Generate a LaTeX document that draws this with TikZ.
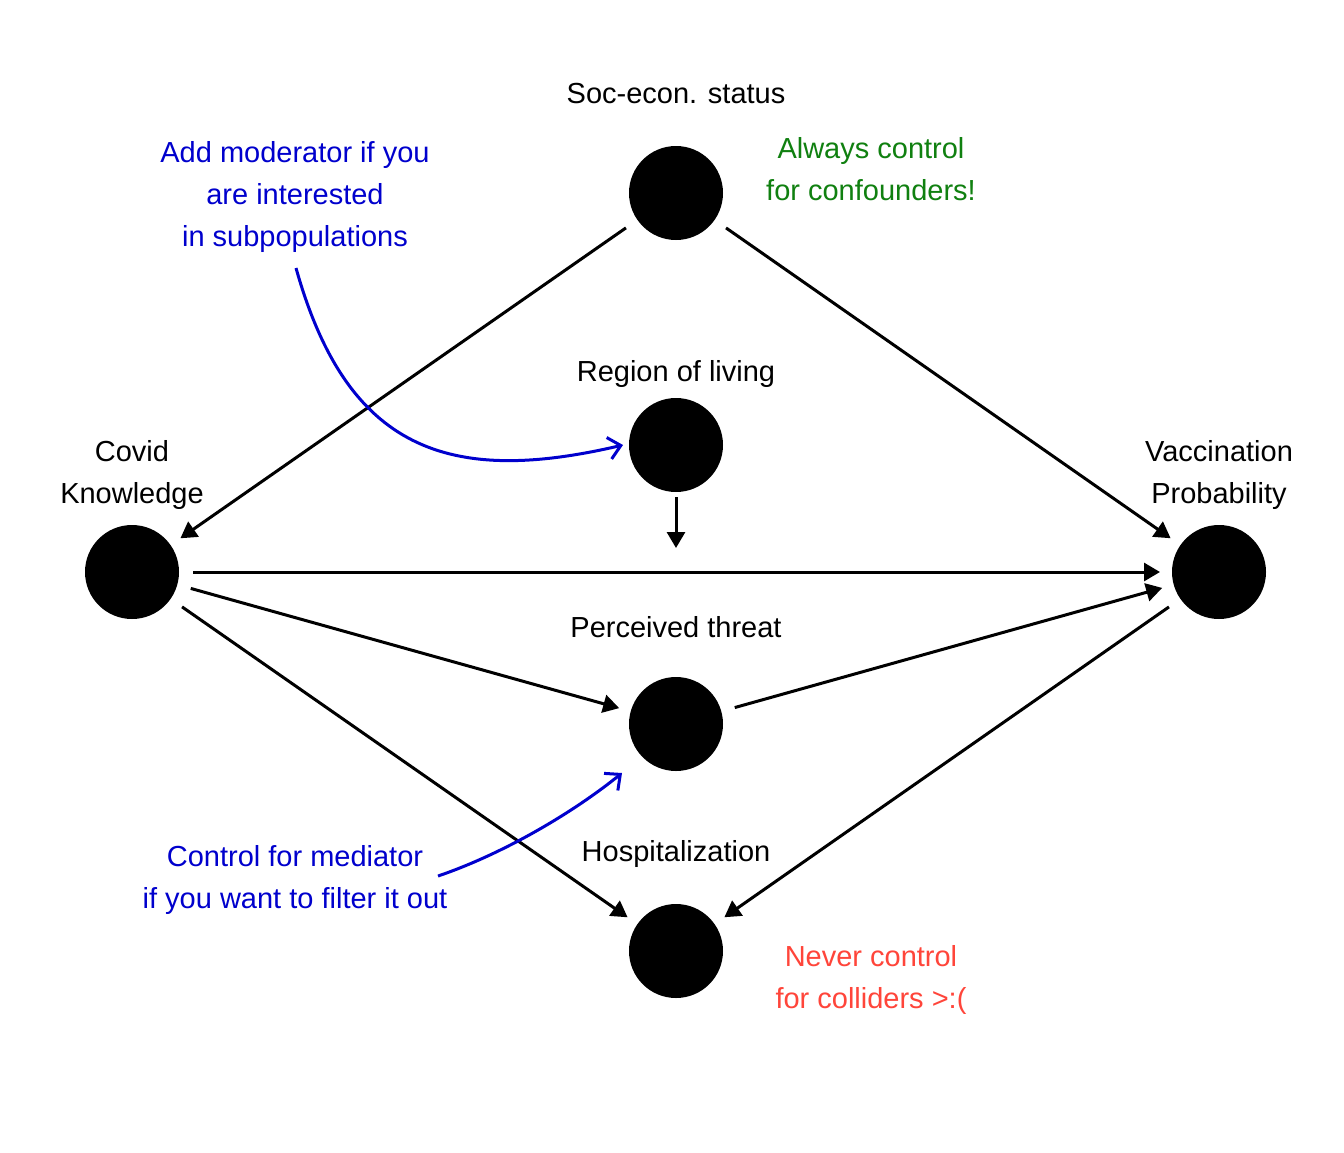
\documentclass[tikz,border=0pt]{standalone}
\usepackage{fontspec}
\setmainfont{Liberation Sans}
\usetikzlibrary{arrows.meta}
\definecolor{modblue}{RGB}{0,0,205}
\definecolor{confgreen}{RGB}{16,128,16}
\definecolor{collred}{RGB}{255,69,58}
\begin{document}
\begin{tikzpicture}[x=0.5pt,y=-0.5pt,
  dot/.style={circle,fill=black,minimum size=47pt,inner sep=0pt,outer sep=0pt},
  lbl/.style={font=\fontsize{14.5}{21}\selectfont,align=center,inner sep=0pt},
  edge/.style={line width=1.5pt,-{Triangle[length=8pt,width=9pt]},shorten <=7pt,shorten >=6pt},
  note/.style={line width=1.5pt,modblue,-{Straight Barb[length=6pt,width=11pt,line width=1.5pt]}}]
\useasboundingbox[fill=white] (0,0) rectangle (1344,1152);
% nodes
\node[dot] (ses) at (676,193) {};
\node[dot] (reg) at (676,445) {};
\node[dot] (cov) at (132,572) {};
\node[dot] (vac) at (1219,572) {};
\node[dot] (per) at (676,724) {};
\node[dot] (hos) at (676,951) {};
\coordinate (mod) at (676,548);
% labels
\node[lbl] (lses) at (676,94) {Soc-econ. status};
\node[lbl] (lreg) at (676,374) {Region of living};
\node[lbl] (lcov) at (132,475) {Covid\\Knowledge};
\node[lbl] (lvac) at (1219,475) {Vaccination\\Probability};
\node[lbl] (lper) at (676,627) {Perceived threat};
\node[lbl] (lhos) at (676,854) {Hospitalization};
\node[lbl,text=confgreen] (tconf) at (871,169) {Always control\\for confounders!};
\node[lbl,text=collred] (tcoll) at (871,980) {Never control\\for colliders >:(};
\node[lbl,text=modblue] (tmod) at (295,197) {Add moderator if you\\are interested\\in subpopulations};
\node[lbl,text=modblue] (tmed) at (295,880) {Control for mediator\\if you want to filter it out};
% edges
\draw[edge] (ses) -- (cov);
\draw[edge] (ses) -- (vac);
\draw[edge] (cov) -- (vac);
\draw[edge] (cov) -- (per);
\draw[edge] (per) -- (vac);
\draw[edge] (cov) -- (hos);
\draw[edge] (vac) -- (hos);
\draw[line width=1.5pt,-{Triangle[length=8pt,width=9pt]},shorten <=2.5pt] (reg) -- (mod);
% annotation curves
\coordinate (c1s) at (296,268);
\coordinate (c1e) at (623,445);
\coordinate (c2s) at (438,876);
\coordinate (c2e) at (622,773);
\draw[note] (c1s) .. controls (347,450) and (448,486) .. (c1e);
\draw[note] (c2s) .. controls (500,855) and (570,815) .. (c2e);
\end{tikzpicture}
\end{document}
